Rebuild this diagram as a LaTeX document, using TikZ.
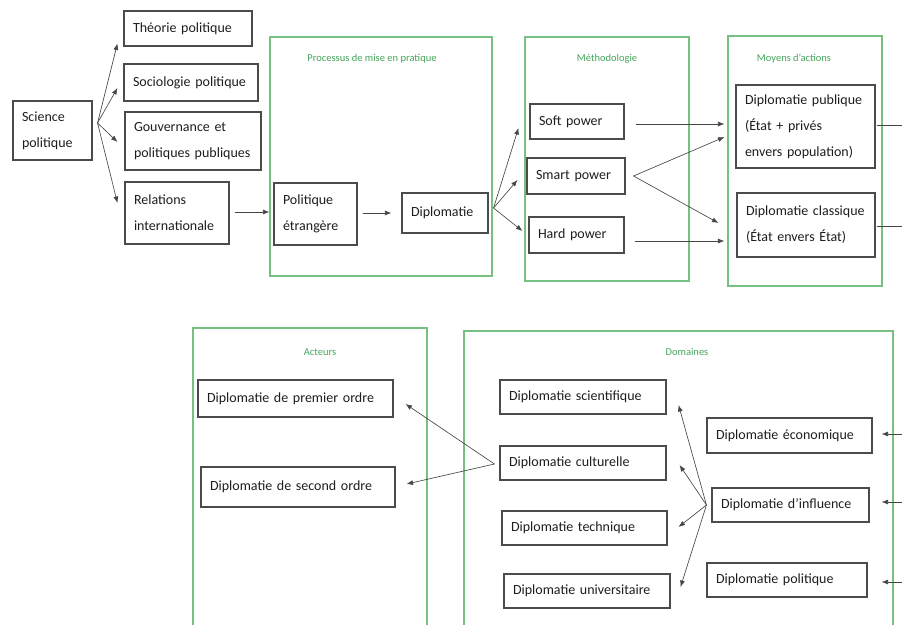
\documentclass[tikz,border=0pt]{standalone}
\usepackage{fontspec}
\setmainfont{Carlito}
\usetikzlibrary{arrows.meta,calc}
\definecolor{frgreen}{RGB}{120,192,130}
\definecolor{ttgreen}{RGB}{70,165,90}
\definecolor{boxline}{RGB}{75,75,75}
\definecolor{txt}{RGB}{30,30,30}
\definecolor{arrcol}{RGB}{70,70,70}
\begin{document}
\begin{tikzpicture}[x=1pt,y=-1pt,
  box/.style={draw=boxline, line width=1.1pt, fill=white, text=txt, align=left,
    inner xsep=9pt, inner ysep=2pt, font=\fontsize{14}{26}\selectfont},
  frame/.style={draw=frgreen, line width=1.2pt},
  ftitle/.style={text=ttgreen, font=\fontsize{10.5}{12}\selectfont, inner sep=0pt},
  arr/.style={draw=arrcol, line width=0.65pt, -{Latex[length=6.5pt,width=5pt]}},
  ln/.style={draw=arrcol, line width=0.65pt}]
\useasboundingbox (0,0) rectangle (902,624);
\clip (0,0) rectangle (902,624);
\fill[white] (0,0) rectangle (902,624);

% frames
\node[frame, minimum width=222pt, minimum height=239pt] (fproc) at (381,156.5) {};
\node[frame, minimum width=164pt, minimum height=244pt] (fmeth) at (607,159) {};
\node[frame, minimum width=154pt, minimum height=250pt] (fmoy) at (805,161) {};
\node[frame, minimum width=234pt, minimum height=312pt] (fact) at (310,484) {};
\node[frame, minimum width=429pt, minimum height=309pt] (fdom) at (678.5,485.5) {};

\node[ftitle] (tproc) at (372,59) {Processus de mise en pratique};
\node[ftitle] (tmeth) at (607,59) {Méthodologie};
\node[ftitle] (tmoy) at (794,59) {Moyens d’actions};
\node[ftitle] (tact) at (320,352) {Acteurs};
\node[ftitle] (tdom) at (687,352) {Domaines};

% boxes top
\node[box, text width=61pt, minimum height=59pt] (sci) at (52.5,130.5) {Science\\politique};
\node[box, text width=110pt, minimum height=35pt] (theo) at (188,28.5) {Théorie politique};
\node[box, text width=116pt, minimum height=37pt] (socio) at (191,82.5) {Sociologie politique};
\node[box, text width=118pt, minimum height=58pt] (gouv) at (193,141) {Gouvernance et\\politiques publiques};
\node[box, text width=86pt, minimum height=62pt] (rel) at (177,213) {Relations\\internationale};
\node[box, text width=65pt, minimum height=62pt] (polet) at (315.5,214) {Politique\\étrangère};
\node[box, text width=68pt, minimum height=40pt] (diplo) at (445,213) {Diplomatie};
\node[box, text width=76pt, minimum height=35pt] (soft) at (577,121.5) {Soft power};
\node[box, text width=80pt, minimum height=36pt] (smart) at (576,176) {Smart power};
\node[box, text width=77pt, minimum height=36pt] (hard) at (576.5,235) {Hard power};
\node[box, text width=121pt, minimum height=83pt] (pub) at (805.5,126.5) {Diplomatie publique\\(État + privés\\envers population)};
\node[box, text width=120pt, minimum height=64pt] (clas) at (806,225) {Diplomatie classique\\(État envers État)};

% boxes bottom
\node[box, text width=177pt, minimum height=37pt] (prem) at (295.5,398.5) {Diplomatie de premier ordre};
\node[box, text width=176pt, minimum height=40pt] (second) at (298,487) {Diplomatie de second ordre};
\node[box, text width=148pt, minimum height=34pt] (scient) at (583,397) {Diplomatie scientifique};
\node[box, text width=148pt, minimum height=34pt] (cult) at (583,463) {Diplomatie culturelle};
\node[box, text width=147pt, minimum height=34pt] (tech) at (584.5,528) {Diplomatie technique};
\node[box, text width=148pt, minimum height=34pt] (univ) at (587,591) {Diplomatie universitaire};
\node[box, text width=147pt, minimum height=35pt] (eco) at (789.5,435.5) {Diplomatie économique};
\node[box, text width=139pt, minimum height=34pt] (infl) at (790.5,505) {Diplomatie d’influence};
\node[box, text width=142pt, minimum height=34pt] (polit) at (787,580) {Diplomatie politique};

% free ends at the right edge
\coordinate (pubout) at (902,125);
\coordinate (clasout) at (902,226);
\coordinate (ecoin) at (902,434);
\coordinate (inflin) at (902,502);
\coordinate (politin) at (902,582);

% science politique fan
\coordinate (scio) at ($(sci.east)+(5,-7.5)$);
\draw[arr] (scio) -- ($(theo.west)+(-6,15)$);
\draw[arr] (scio) -- ($(socio.west)+(-6,5.5)$);
\draw[arr] (scio) -- ($(gouv.west)+(-7,1)$);
\draw[arr] (scio) -- ($(rel.west)+(-7,-10)$);

\draw[arr] ($(rel.east)+(5,-1)$) -- ($(polet.west)+(-4,-2)$);
\draw[arr] ($(polet.east)+(5,-1)$) -- ($(diplo.west)+(-10,0)$);

% diplomatie fan
\coordinate (diploo) at ($(diplo.east)+(5,-5)$);
\draw[arr] (diploo) -- ($(soft.west)+(-11,6.5)$);
\draw[arr] (diploo) -- ($(smart.west)+(-9,4)$);
\draw[arr] (diploo) -- ($(hard.west)+(-6,-4)$);

% methodologie -> moyens
\draw[arr] ($(soft.east)+(11,2.5)$) -- ($(pub.west)+(-11,-2.5)$);
\coordinate (smarto) at ($(smart.east)+(8,0)$);
\draw[arr] (smarto) -- ($(pub.west)+(-11,10.5)$);
\draw[arr] (smarto) -- ($(clas.west)+(-18,-2)$);
\draw[arr] ($(hard.east)+(10,6)$) -- ($(clas.west)+(-12,16)$);

\draw[ln] ($(pub.east)+(1,-1.5)$) -- (pubout);
\draw[ln] ($(clas.east)+(1,1)$) -- (clasout);

% incoming from right
\draw[arr] (ecoin) -- ($(eco.east)+(9,-1.5)$);
\draw[arr] (inflin) -- ($(infl.east)+(12,-3)$);
\draw[arr] (politin) -- ($(polit.east)+(14,2)$);

% influence fan
\coordinate (inflo) at ($(infl.west)+(-5,0)$);
\draw[arr] (inflo) -- ($(scient.east)+(12,8)$);
\draw[arr] (inflo) -- ($(cult.east)+(13,2)$);
\draw[arr] (inflo) -- ($(tech.east)+(11,-1)$);
\draw[arr] (inflo) -- ($(univ.east)+(10,-4)$);

% culturelle fan to acteurs
\coordinate (culto) at ($(cult.west)+(-5,1)$);
\draw[arr] (culto) -- ($(prem.east)+(12,5.5)$);
\draw[arr] (culto) -- ($(second.east)+(11,-3)$);
\end{tikzpicture}
\end{document}
